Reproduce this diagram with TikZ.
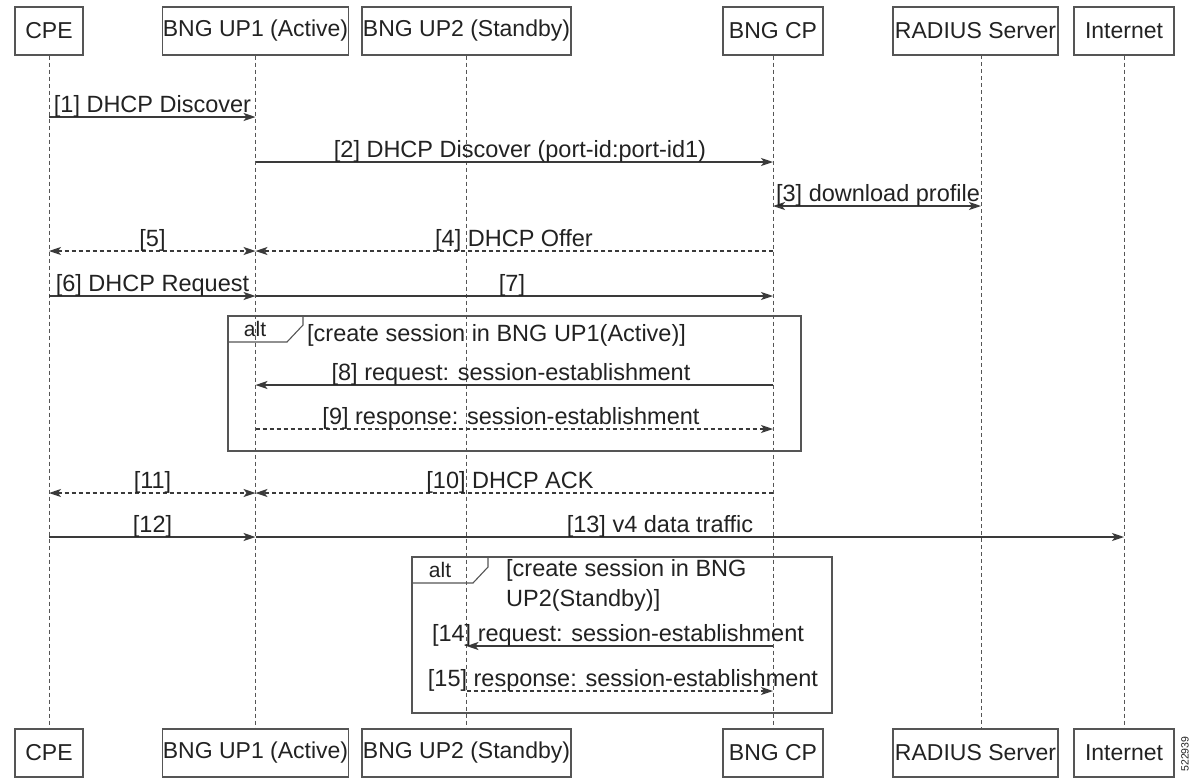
\documentclass[tikz,border=0pt]{standalone}
\usepackage{fontspec}
\setmainfont{Liberation Sans}
\usetikzlibrary{arrows.meta}
\definecolor{frm}{HTML}{555555}
\definecolor{lnc}{HTML}{3A3A3A}
\definecolor{txt}{HTML}{222222}
\begin{document}
\begin{tikzpicture}[x=1pt,y=-1pt,
  pbox/.style={draw=frm, line width=1.1pt, minimum height=48pt, inner sep=0pt, text=txt, font=\fontsize{23}{28}\selectfont},
  life/.style={draw=frm, line width=0.9pt, dash pattern=on 4pt off 3pt},
  msg/.style={draw=lnc, line width=1.3pt, -{Stealth[length=12pt,width=8pt,inset=3pt]}},
  rmsg/.style={msg, dash pattern=on 4pt off 3pt},
  lbl/.style={anchor=base, inner sep=0pt, text=txt, font=\fontsize{23.5}{28}\selectfont},
  altfrm/.style={draw=frm, line width=1.1pt},
  altlbl/.style={inner sep=0pt, text=txt, font=\fontsize{21}{25}\selectfont},
  cond/.style={inner sep=0pt, text=txt, align=left, font=\fontsize{23.5}{30}\selectfont}
]
\useasboundingbox (0,0) rectangle (1199,780);
\fill[white] (0,0) rectangle (1199,780);

% participants top
\node[pbox, minimum width=68pt]  (cpeT) at (49,31)    {CPE};
\node[pbox, minimum width=185pt] (up1T) at (255.5,31) {BNG UP1 (Active)};
\node[pbox, minimum width=209pt] (up2T) at (466.5,31) {BNG UP2 (Standby)};
\node[pbox, minimum width=100pt] (cpT)  at (773,31)   {BNG CP};
\node[pbox, minimum width=165pt] (radT) at (975.5,31) {RADIUS Server};
\node[pbox, minimum width=100pt] (intT) at (1124,31)  {Internet};
% participants bottom
\node[pbox, minimum width=68pt]  (cpeB) at (49,753)    {CPE};
\node[pbox, minimum width=185pt] (up1B) at (255.5,753) {BNG UP1 (Active)};
\node[pbox, minimum width=209pt] (up2B) at (466.5,753) {BNG UP2 (Standby)};
\node[pbox, minimum width=100pt] (cpB)  at (773,753)   {BNG CP};
\node[pbox, minimum width=165pt] (radB) at (975.5,753) {RADIUS Server};
\node[pbox, minimum width=100pt] (intB) at (1124,753)  {Internet};

% lifelines
\coordinate (radLt) at (981,55);
\coordinate (radLb) at (981,729);
\draw[life] (cpeT.south) -- (cpeB.north);
\draw[life] (up1T.south) -- (up1B.north);
\draw[life] (up2T.south) -- (up2B.north);
\draw[life] (cpT.south) -- (cpB.north);
\draw[life] (radLt) -- (radLb);
\draw[life] (intT.south) -- (intB.north);

% rows
\coordinate (r1) at (0,117);
\coordinate (r2) at (0,162);
\coordinate (r3) at (0,206);
\coordinate (r4) at (0,251);
\coordinate (r6) at (0,296);
\coordinate (r8) at (0,385);
\coordinate (r9) at (0,429);
\coordinate (r10) at (0,493);
\coordinate (r12) at (0,537);
\coordinate (r14) at (0,646);
\coordinate (r15) at (0,691);

% alt frame 1
\draw[altfrm] (228,316) rectangle (801,451);
\draw[altfrm] (228,342) -- (287,342) -- (303,325) -- (303,316);
\node[altlbl] (alt1) at (255,329) {alt};
\node[cond, anchor=base west] (c1) at (307,341.5) {[create session in BNG UP1(Active)]};

% alt frame 2
\draw[altfrm] (412,557) rectangle (832,713);
\draw[altfrm] (412,583) -- (473,583) -- (488,567) -- (488,557);
\node[altlbl] (alt2) at (440,570) {alt};
\node[cond, anchor=north west] (c2) at (506,559.5) {[create session in BNG\\UP2(Standby)]};

% messages
\draw[msg] (cpeT |- r1) -- (up1T |- r1);
\node[lbl] (t1) at (152.5,112) {[1] DHCP Discover};

\draw[msg] (up1T |- r2) -- (cpT |- r2);
\node[lbl] (t2) at (520,157) {[2] DHCP Discover (port-id:port-id1)};

\draw[msg, {Stealth[length=12pt,width=8pt,inset=3pt]}-{Stealth[length=12pt,width=8pt,inset=3pt]}] (cpT |- r3) -- (radLt |- r3);
\node[lbl] (t3) at (878,201) {[3] download profile};

\draw[rmsg] (cpT |- r4) -- (up1T |- r4);
\node[lbl] (t4) at (514,246) {[4] DHCP Offer};
\draw[rmsg, {Stealth[length=12pt,width=8pt,inset=3pt]}-{Stealth[length=12pt,width=8pt,inset=3pt]}] (cpeT |- r4) -- (up1T |- r4);
\node[lbl] (t5) at (152.5,246) {[5]};

\draw[msg] (cpeT |- r6) -- (up1T |- r6);
\node[lbl] (t6) at (152.5,291) {[6] DHCP Request};
\draw[msg] (up1T |- r6) -- (cpT |- r6);
\node[lbl] (t7) at (512,291) {[7]};

\draw[msg] (cpT |- r8) -- (up1T |- r8);
\node[lbl] (t8) at (511,380) {[8] request: session-establishment};
\draw[rmsg] (up1T |- r9) -- (cpT |- r9);
\node[lbl] (t9) at (511,424) {[9] response: session-establishment};

\draw[rmsg] (cpT |- r10) -- (up1T |- r10);
\node[lbl] (t10) at (510,488) {[10] DHCP ACK};
\draw[rmsg, {Stealth[length=12pt,width=8pt,inset=3pt]}-{Stealth[length=12pt,width=8pt,inset=3pt]}] (cpeT |- r10) -- (up1T |- r10);
\node[lbl] (t11) at (152.5,488) {[11]};

\draw[msg] (cpeT |- r12) -- (up1T |- r12);
\node[lbl] (t12) at (152.5,532) {[12]};
\draw[msg] (up1T |- r12) -- (intT |- r12);
\node[lbl] (t13) at (660,532) {[13] v4 data traffic};

\draw[msg] (cpT |- r14) -- (up2T |- r14);
\node[lbl] (t14) at (618,641) {[14] request: session-establishment};
\draw[rmsg] (up2T |- r15) -- (cpT |- r15);
\node[lbl] (t15) at (623,686) {[15] response: session-establishment};

% figure number
\node[rotate=90, inner sep=0pt, text=txt, font=\fontsize{10.5}{12}\selectfont] (fig) at (1185,754) {522939};
\end{tikzpicture}
\end{document}
